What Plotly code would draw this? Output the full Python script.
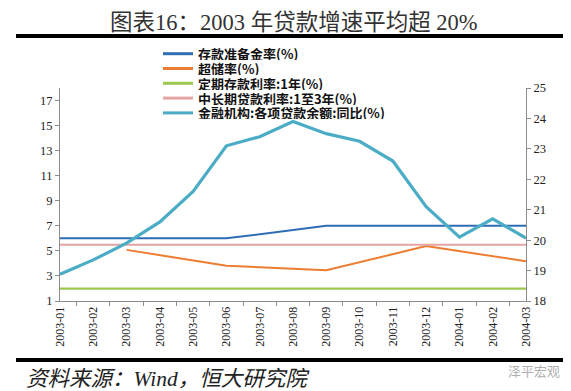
import plotly.graph_objects as go

months = ["2003-01", "2003-02", "2003-03", "2003-04", "2003-05", "2003-06", "2003-07",
          "2003-08", "2003-09", "2003-10", "2003-11", "2003-12", "2004-01", "2004-02", "2004-03"]

reserve_ratio = [6, 6, 6, 6, 6, 6, None, None, 7, 7, 7, 7, 7, 7, 7]
excess_reserve = [None, None, 5.08, None, None, 3.82, None, None, 3.45, None, None, 5.38, None, None, 4.17]
deposit_rate_1y = [1.98] * 15
loan_rate_1_3y = [5.49] * 15
loan_growth = [18.88, 19.35, 19.9, 20.6, 21.6, 23.1, 23.4, 23.9, 23.5, 23.25, 22.6, 21.1, 20.1, 20.7, 20.07]

names = ["存款准备金率(%)", "超储率(%)", "定期存款利率:1年(%)", "中长期贷款利率:1至3年(%)", "金融机构:各项贷款余额:同比(%)"]
colors = ["#2E6DB4", "#ED7D31", "#9BC850", "#E3A4A4", "#4BACC6"]
widths = [2, 2, 2.2, 2, 3.2]

serif = "Liberation Serif, Noto Sans CJK SC"
cjk = "Noto Sans CJK SC"

fig = go.Figure()
left_series = [reserve_ratio, excess_reserve, deposit_rate_1y, loan_rate_1_3y]
for i, ys in enumerate(left_series):
    fig.add_trace(go.Scatter(x=months, y=ys, name=names[i], mode="lines", connectgaps=True,
                             line=dict(color=colors[i], width=widths[i]), yaxis="y", showlegend=False))
fig.add_trace(go.Scatter(x=months, y=loan_growth, name=names[4], mode="lines",
                         line=dict(color=colors[4], width=widths[4]), yaxis="y2", showlegend=False))

axis_col = "#8C8C8C"
fig.update_layout(
    width=571, height=391,
    margin=dict(l=52, r=53, t=80, b=98),
    paper_bgcolor="white", plot_bgcolor="white",
    xaxis=dict(type="category", showgrid=False, showline=True, linecolor=axis_col, linewidth=1,
               ticks="outside", tickson="boundaries", ticklen=4, tickcolor=axis_col,
               tickangle=-90, tickfont=dict(family=serif, size=12, color="#222")),
    yaxis=dict(range=[1, 18], tickvals=list(range(1, 18, 2)), showgrid=False, zeroline=False,
               showline=True, linecolor=axis_col, linewidth=1, ticks="outside", ticklen=4,
               tickcolor=axis_col, tickfont=dict(family=serif, size=12.5, color="#222")),
    yaxis2=dict(range=[18, 25], dtick=1, overlaying="y", side="right", showgrid=False, zeroline=False,
                showline=True, linecolor=axis_col, linewidth=1, ticks="outside", ticklen=4,
                tickcolor=axis_col, tickfont=dict(family=serif, size=12.5, color="#222")),
)

# title and rules
fig.add_annotation(text="图表16：2003 年贷款增速平均超 20%", xref="paper", yref="paper",
                   x=(286 - 52) / 466, y=(293 - 14) / 213, showarrow=False,
                   font=dict(family=serif, size=22.5, color="#333"), xanchor="center", yanchor="middle")
fig.add_shape(type="line", xref="paper", yref="paper", x0=-44 / 466, x1=(563 - 52) / 466,
              y0=(293 - 28) / 213, y1=(293 - 28) / 213, line=dict(color="black", width=4))
fig.add_shape(type="line", xref="paper", yref="paper", x0=-44 / 466, x1=(563 - 52) / 466,
              y0=(293 - 352) / 213, y1=(293 - 352) / 213, line=dict(color="black", width=4))
fig.add_annotation(text="<i>资料来源：Wind，恒大研究院</i>", xref="paper", yref="paper",
                   x=(16 - 52) / 466, y=(293 - 371) / 213, showarrow=False, xanchor="left", yanchor="middle",
                   font=dict(family=serif, size=21.5, color="#222"))
fig.add_annotation(text="泽平宏观", xref="paper", yref="paper",
                   x=(554 - 52) / 466, y=(293 - 362) / 213, showarrow=False, xanchor="right", yanchor="middle",
                   font=dict(family=cjk, size=13, color="#B0B0B0"))

# legend (drawn manually to match the compact spacing)
rows = [45.7, 60.5, 75.3, 90.1, 104.9]
for i, ypx in enumerate(rows):
    yp = (293 - ypx) / 213
    fig.add_shape(type="line", xref="paper", yref="paper", x0=(155 - 52) / 466, x1=(185 - 52) / 466,
                  y0=yp, y1=yp, line=dict(color=colors[i], width=3))
    fig.add_annotation(text="<b>" + names[i] + "</b>", xref="paper", yref="paper",
                       x=(189 - 52) / 466, y=yp, showarrow=False, xanchor="left", yanchor="middle",
                       height=13, valign="middle", borderpad=0,
                       font=dict(family=cjk, size=13, color="#111"))

fig.write_html("out.html")
